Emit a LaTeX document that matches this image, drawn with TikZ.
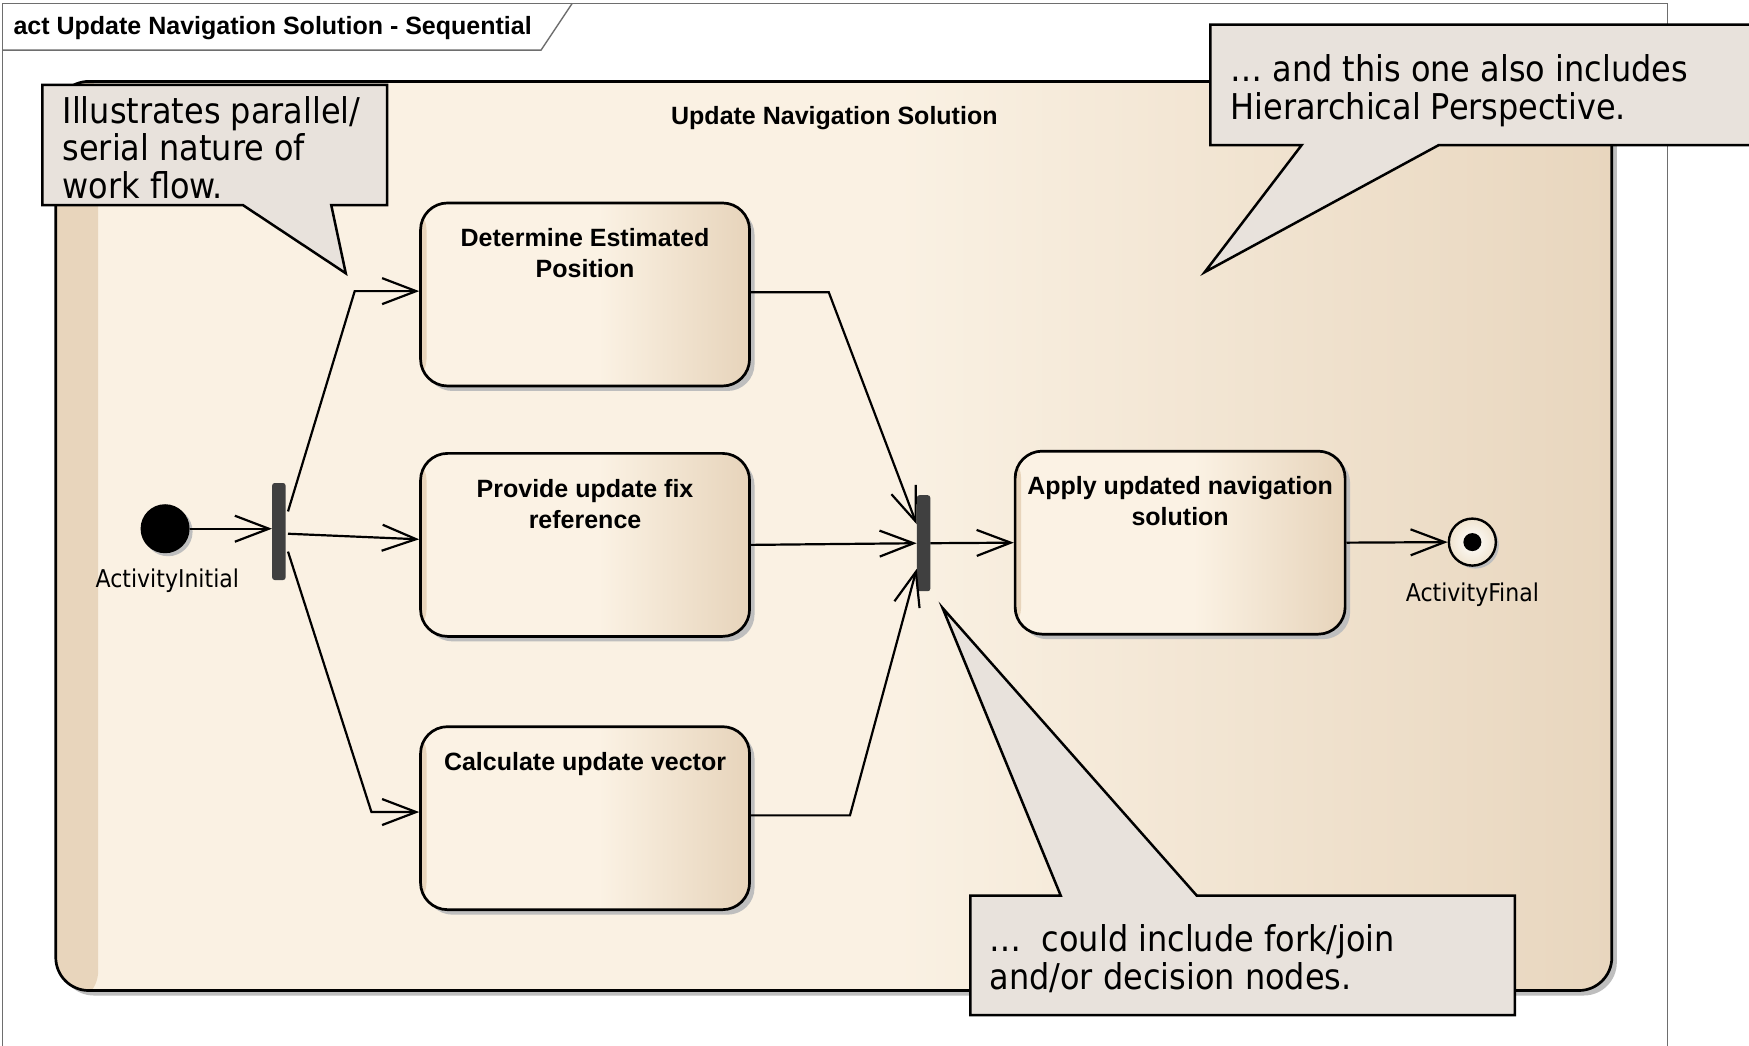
\documentclass[tikz,border=0pt]{standalone}
\usepackage{fontspec}
\setmainfont{Liberation Sans}
\newfontfamily\notefont{DejaVu Sans Condensed}
\usetikzlibrary{arrows.meta,shadows,calc}
\definecolor{notefill}{RGB}{232,226,220}
\definecolor{contL}{RGB}{250,241,227}
\definecolor{contR}{RGB}{232,214,190}
\definecolor{contstrip}{RGB}{232,213,188}
\definecolor{actL}{RGB}{251,242,228}
\definecolor{actR}{RGB}{231,212,187}
\definecolor{shadowc}{RGB}{190,190,190}
\definecolor{barc}{RGB}{64,64,64}
\definecolor{framec}{RGB}{110,110,110}
\definecolor{finc}{RGB}{240,228,208}
\pgfdeclarehorizontalshading{contsh}{100bp}{color(0bp)=(contL); color(25bp)=(contL); color(52bp)=(contL); color(75bp)=(contR); color(100bp)=(contR)}
\pgfdeclarehorizontalshading{actsh}{100bp}{color(0bp)=(actL); color(25bp)=(actL); color(52bp)=(actL); color(75bp)=(actR); color(100bp)=(actR)}
\begin{document}
\begin{tikzpicture}[x=1.1154pt,y=-1.1154pt,
  shad/.style={drop shadow={shadow xshift=5pt,shadow yshift=-5pt,fill=shadowc,opacity=1}},
  action/.style={draw=black, line width=2.7pt, rounded corners=27pt,
    minimum width=329pt, minimum height=183pt, inner sep=0,
    shading=actsh, shad,
    path picture={\fill[contstrip] (path picture bounding box.south west) rectangle ([xshift=6pt]path picture bounding box.north west);}},
  albl/.style={font=\bfseries\fontsize{25}{31}\selectfont, align=center, inner sep=0, anchor=north},
  bar/.style={fill=barc, rounded corners=2.5pt, minimum width=13.4pt, inner sep=0},
  note/.style={fill=notefill, draw=black, line width=2.5pt, line join=miter},
  ntext/.style={font=\notefont\fontsize{35.5}{37.8}\selectfont, align=left, inner sep=0, anchor=north west},
  plbl/.style={font=\notefont\fontsize{24.5}{28}\selectfont, inner sep=0},
  arr/.style={draw=black, line width=2.2pt, line join=miter, -{Straight Barb[length=34pt,width=26pt,line width=2.2pt]}}]
\useasboundingbox[fill=white] (0,0) rectangle (1568,937);

% frame
\draw[framec, line width=1.4pt] (2,3) rectangle (1495,960);
\draw[framec, line width=1.4pt] (2,45) -- (485,45) -- (513,3);
\node[anchor=west, inner sep=0, font=\bfseries\fontsize{25}{30}\selectfont] (title) at (12,25) {act Update Navigation Solution - Sequential};

% container
\path[draw=black, line width=2.7pt, rounded corners=33pt,
  shading=contsh, shad,
  path picture={\fill[contstrip] (40,60) rectangle (88,900);}]
  (50,73) rectangle (1445,888);
\node[font=\bfseries\fontsize{25}{30}\selectfont, inner sep=0] (ctitle) at (748,106) {Update Navigation Solution};

% actions
\node[action] (A1) at (524.5,264) {};
\node[albl] (A1t) at ($(A1.north)+(0,24)$) {Determine Estimated\\Position};
\node[action] (A2) at (524.5,488.5) {};
\node[albl] (A2t) at ($(A2.north)+(0,24)$) {Provide update fix\\reference};
\node[action] (A3) at (524.5,733.5) {};
\node[albl] (A3t) at ($(A3.north)+(0,24)$) {Calculate update vector};
\node[action, minimum width=330pt] (A4) at (1058,486.5) {};
\node[albl] (A4t) at ($(A4.north)+(0,24)$) {Apply updated navigation\\solution};

% initial / final / bars
\node[circle, fill=black, minimum size=49pt, inner sep=0, drop shadow={shadow xshift=3pt,shadow yshift=-3pt,fill=shadowc,opacity=1}] (init) at (148,474) {};
\node[plbl] (initl) at (150,521) {ActivityInitial};
\node[bar, minimum height=97pt] (fork) at (250,476.5) {};
\node[bar, minimum height=96pt] (join) at (828,487) {};
\node[circle, draw=black, line width=2.4pt, inner color=white, outer color=finc, minimum size=47pt, inner sep=0, drop shadow={shadow xshift=3pt,shadow yshift=-3pt,fill=shadowc,opacity=1}] (fin) at (1320,486) {};
\node[circle, fill=black, minimum size=18pt, inner sep=0] (findot) at (fin) {};
\node[plbl] (finl) at (1320,533) {ActivityFinal};

% connectors
\draw[arr] (init) -- (init -| fork.west);
\draw[arr] ($(fork.east)+(2,-18)$) -- (318,261) -- (A1.west |- 0,261);
\draw[arr] ($(fork.east)+(2,2)$) -- ($(A2.west)+(0,-5)$);
\draw[arr] ($(fork.east)+(2,18)$) -- (333,728) -- (A3.west |- 0,728);
\draw[arr] (A1.east |- 0,262) -- (743,262) -- ($(join.west)+(0,-17)$);
\draw[arr] (A2.east) -- (join.west);
\draw[arr] (A3.east |- 0,731) -- (762,731) -- ($(join.west)+(0,23)$);
\draw[arr] (join.east) -- (A4.west);
\draw[arr] (A4.east) -- (fin.west);

% notes
\path[note] (38,76) -- (347,76) -- (347,184) -- (297,184) -- (310,245) -- (218,184) -- (38,184) -- cycle;
\node[ntext] (n1) at (56,86) {Illustrates parallel/\\serial nature of\\work flow.};
\path[note] (1085,22) -- (1580,22) -- (1580,130) -- (1290,130) -- (1080,244) -- (1167,130) -- (1085,130) -- cycle;
\node[ntext] (n2) at (1103,49) {… and this one also includes\\Hierarchical Perspective.};
\path[note] (870,803) -- (951,803) -- (845,545) -- (1073,803) -- (1358,803) -- (1358,910) -- (870,910) -- cycle;
\node[ntext] (n3) at (887,829) {…\ \ could include fork/join\\and/or decision nodes.};
\end{tikzpicture}
\end{document}
